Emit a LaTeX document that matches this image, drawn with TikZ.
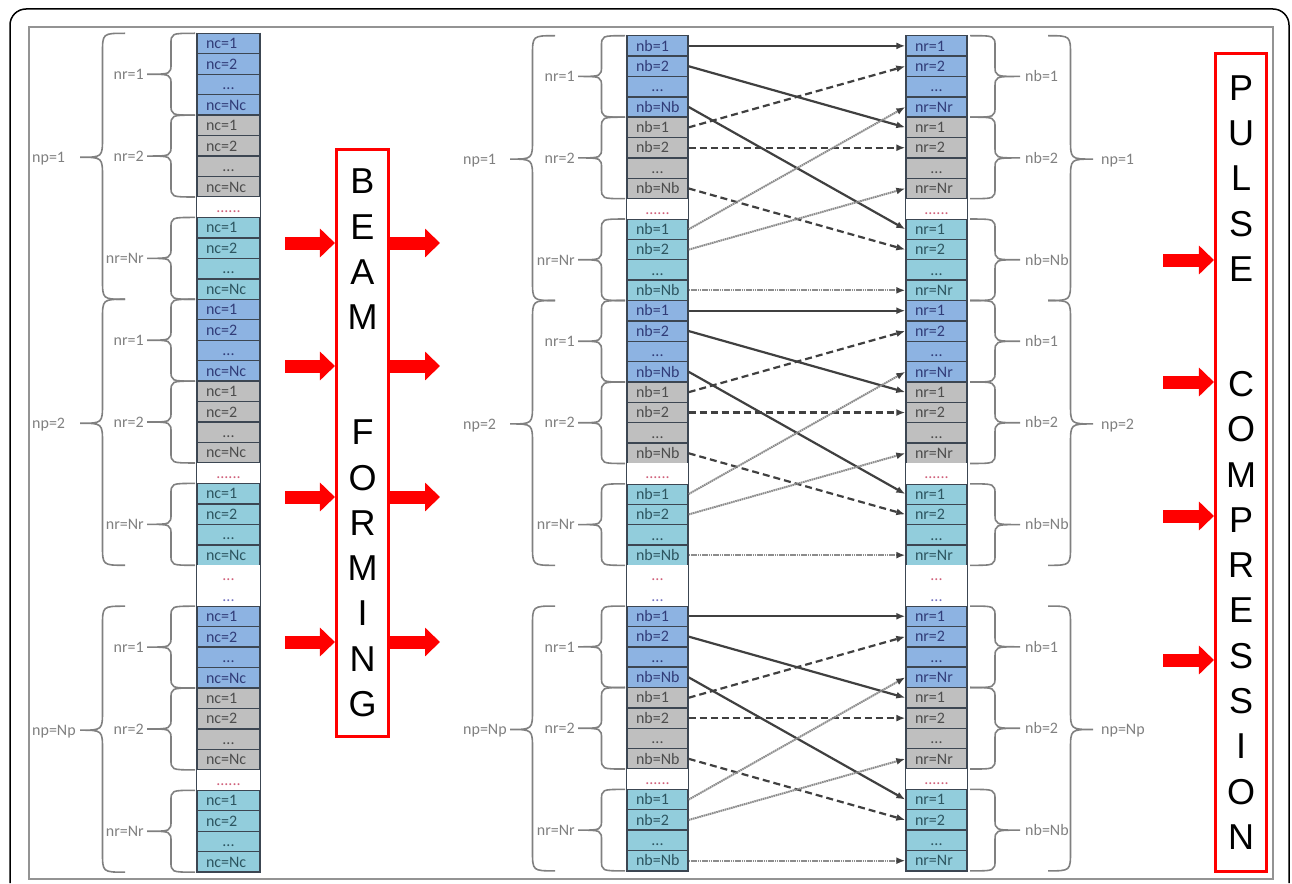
\documentclass[tikz,border=0pt]{standalone}
\usepackage{fontspec}
\usepackage{xcolor}
\usepackage{tikz}
\usetikzlibrary{arrows.meta,positioning}
\newfontfamily\cellfont{Carlito}
\newfontfamily\boxfont{Liberation Sans}
\definecolor{cblue}{HTML}{8DB3E2}
\definecolor{cgray}{HTML}{BFBFBF}
\definecolor{ccyan}{HTML}{92CDDC}
\definecolor{cedge}{HTML}{3C4652}
\definecolor{tblue}{HTML}{313C78}
\definecolor{tgray}{HTML}{4D4D4D}
\definecolor{tcyan}{HTML}{2D5560}
\definecolor{bracegray}{HTML}{808080}
\definecolor{dotred}{HTML}{D0607A}
\definecolor{dotblue}{HTML}{7070C0}
\definecolor{linkdark}{HTML}{404040}
\definecolor{linklight}{HTML}{8C8C8C}
\tikzstyle{cell} = [rectangle, draw=cedge, line width=1.4pt, inner xsep=9pt, inner ysep=0pt, text height=10.5pt, text depth=0pt, font=\cellfont\fontsize{16}{16}\selectfont, align=left]
\tikzstyle{blu} = [cell, fill=cblue, text=tblue]
\tikzstyle{gry} = [cell, fill=cgray, text=tgray]
\tikzstyle{cyn} = [cell, fill=ccyan, text=tcyan]
\tikzstyle{gap} = [cell, draw=none, fill=white, align=center]
\tikzstyle{colside} = [draw=cedge, line width=1.4pt]
\tikzstyle{brc} = [draw=bracegray, line width=1.6pt]
\tikzstyle{blab} = [inner sep=0pt, text=bracegray, text height=10.5pt, text depth=0pt, font=\cellfont\fontsize{16}{16}\selectfont]
\tikzstyle{redbox} = [rectangle, draw=red, line width=3.5pt, fill=white, align=center, font=\boxfont\fontsize{36}{45.3}\selectfont]
\tikzstyle{redarr} = [draw=red, line width=13pt, -{Triangle[length=15pt,width=28pt]}]
\tikzstyle{link0} = [draw=linkdark, line width=2.2pt, -{Latex[length=9pt,width=7pt]}]
\tikzstyle{link1} = [link0, dash pattern=on 7pt off 4pt]
\tikzstyle{link2} = [draw=linklight, line width=2pt, dash pattern=on 1.6pt off 0.6pt, -{Latex[length=9pt,width=7pt,color=linkdark]}]
% brace: ends x, tip x, top y, tip y, bottom y, curl
\newcommand{\bracepath}[6]{%
  \draw[brc] (#1,#3) .. controls ({(#1+#2)/2},#3) .. ({(#1+#2)/2},{#3+#6})
    -- ({(#1+#2)/2},{#4-#6}) .. controls ({(#1+#2)/2},#4) .. (#2,#4)
    .. controls ({(#1+#2)/2},#4) .. ({(#1+#2)/2},{#4+#6})
    -- ({(#1+#2)/2},{#5-#6}) .. controls ({(#1+#2)/2},#5) .. (#1,#5);}

\begin{document}
\begin{tikzpicture}[x=1pt, y=-1pt]
\useasboundingbox (0,0) rectangle (1292,883);
\draw[line width=1.5pt, rounded corners=16pt] (10,883) -- (10,9) -- (1289,9) -- (1289,883);
\draw[draw=gray!85, line width=2.5pt] (29,27) rectangle (1273,879);

% the three columns of cells
\foreach \col/\cx/\cw/\ctop/\ch/\pre/\Pre in {L/197/63/33.3/20.46/nc/Nc, M/627/61/35.7/20.37/nb/Nb, R/906/61/35.7/20.37/nr/Nr}{
  \pgfmathsetmacro\tw{\cw-18}
  \foreach \grp in {0,13,28}{
    \foreach \off/\sty in {0/blu,4/gry,9/cyn}{
      \foreach \sub/\txt in {0/\pre=1,1/\pre=2,2/\makebox[\tw pt]{...},3/\pre=\Pre}{
        \pgfmathtruncatemacro\row{\grp+\off+\sub}
        \node[\sty, text width=\tw pt, minimum height=\ch] (\col-\row) at (\cx+\cw/2,\ctop+\ch*\row+\ch/2) {\txt};
      }
    }
    \pgfmathtruncatemacro\row{\grp+8}
    \node[gap, text width=\tw pt, minimum height=\ch] (\col-\row) at (\cx+\cw/2,\ctop+\ch*\row+\ch/2) {\textcolor{dotred}{......}};
  }
  \node[gap, text width=\tw pt, minimum height=\ch] (\col-26) at (\cx+\cw/2,\ctop+\ch*26.5) {\textcolor{dotred}{...}};
  \node[gap, text width=\tw pt, minimum height=\ch] (\col-27) at (\cx+\cw/2,\ctop+\ch*27.5) {\textcolor{dotblue}{...}};
  \draw[colside] (\col-0.north west) -- (\col-40.south west) (\col-0.north east) -- (\col-40.south east);
}

% braces and their labels
\foreach \grp/\np in {0/1,13/2,28/Np}{
  \foreach \off/\nr/\nb in {0/1/1,4/2/2,9/Nr/Nb}{
    \pgfmathsetmacro\ya{33.3+20.46*(\grp+\off)}
    \pgfmathsetmacro\yb{\ya+4*20.46}
    \pgfmathsetmacro\ym{(\ya+\yb)/2}
    \bracepath{195}{147}{\ya}{\ym}{\yb}{11}
    \node[blab, anchor=east] (Lnr-\grp-\off) at (144,\ym) {nr=\nr};
    \pgfmathsetmacro\ya{35.7+20.37*(\grp+\off)}
    \pgfmathsetmacro\yb{\ya+4*20.37}
    \pgfmathsetmacro\ym{(\ya+\yb)/2}
    \bracepath{625}{578}{\ya}{\ym}{\yb}{11}
    \node[blab, anchor=east] (Mnr-\grp-\off) at (575,\ym) {nr=\nr};
    \bracepath{970}{1020}{\ya}{\ym}{\yb}{11}
    \node[blab, anchor=west] (Rnb-\grp-\off) at (1025,\ym) {nb=\nb};
  }
  \pgfmathsetmacro\ya{33.3+20.46*\grp}
  \pgfmathsetmacro\yb{\ya+13*20.46}
  \pgfmathsetmacro\ym{(\ya+\yb)/2-9}
  \bracepath{125}{80}{\ya}{\ym}{\yb}{20}
  \node[blab, anchor=west] (Lnp-\grp) at (32,\ym) {np=\np};
  \pgfmathsetmacro\ya{35.7+20.37*\grp}
  \pgfmathsetmacro\yb{\ya+13*20.37}
  \pgfmathsetmacro\ym{(\ya+\yb)/2-9}
  \bracepath{555}{510}{\ya}{\ym}{\yb}{20}
  \node[blab, anchor=west] (Mnp-\grp) at (463,\ym) {np=\np};
  \bracepath{1048}{1093}{\ya}{\ym}{\yb}{20}
  \node[blab, anchor=west] (Rnp-\grp) at (1101,\ym) {np=\np};
}

% corner turn links
\foreach \grp in {0,13,28}{
  \foreach \a/\ba/\ia in {0/0/0,1/4/1,2/9/3}{
    \foreach \bb/\ib in {0/0,4/1,9/3}{
      \pgfmathtruncatemacro\src{\grp+\ba+\ib}
      \pgfmathtruncatemacro\dst{\grp+\bb+\ia}
      \draw[link\a] (M-\src.east) -- (R-\dst.west);
    }
  }
}

\node[redbox, minimum width=51.6, minimum height=586.6] (beam) at (362.5,443) {B\\E\\A\\M\\[69.7pt]F\\O\\R\\M\\I\\N\\G};
\node[redbox, minimum width=50.6, minimum height=817.6] (pulse) at (1241,462.5) {P\\U\\L\\S\\E\\[69.7pt]C\\O\\M\\P\\R\\E\\S\\S\\I\\O\\N};

\foreach \yy [count=\q] in {243,366,497,642}{
  \coordinate (bin\q) at (285,\yy);
  \coordinate (bout\q) at (440,\yy);
  \draw[redarr] (bin\q) -- (bin\q -| beam.west);
  \draw[redarr] (bin\q -| beam.east) -- (bout\q);
}
\foreach \yy [count=\q] in {260,382,516,660}{
  \coordinate (pin\q) at (1163,\yy);
  \draw[redarr] (pin\q) -- (pin\q -| pulse.west);
}
\end{tikzpicture}
\end{document}
